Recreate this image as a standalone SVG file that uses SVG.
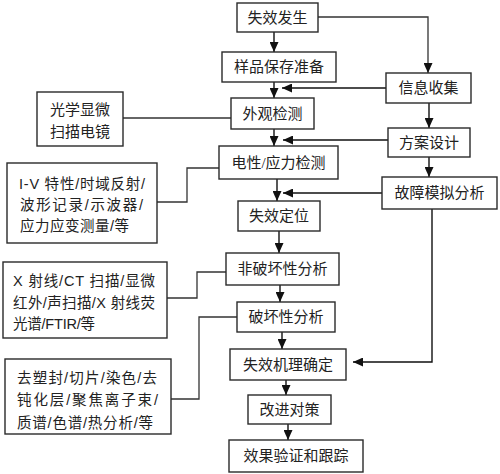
<svg xmlns="http://www.w3.org/2000/svg" width="500" height="474" viewBox="0 0 500 474">
<style>
.box{fill:#fff;stroke:#2a2a2a;stroke-width:1.4}
.t{font-family:"Liberation Serif","Noto Sans CJK SC",serif;font-size:15px;fill:#222;text-anchor:middle}
.s{font-family:"Liberation Sans","Noto Sans CJK SC",sans-serif;font-size:14.5px;fill:#222}
.c{fill:none;stroke:#111;stroke-width:1.4}
.l{fill:none;stroke:#333;stroke-width:1.3}
</style>
<defs>
<marker id="a" markerUnits="userSpaceOnUse" markerWidth="10" markerHeight="9" refX="10" refY="4.5" orient="auto">
<path d="M0,0 L10,4.5 L0,9 z" fill="#111"/>
</marker>
</defs>
<g id="connectors">
<path class="c" d="M274,32 V52" marker-end="url(#a)"/>
<path class="c" d="M274,82 V98" marker-end="url(#a)"/>
<path class="c" d="M386,88 H282" marker-end="url(#a)"/>
<path class="c" d="M274,129 V146" marker-end="url(#a)"/>
<path class="c" d="M388,140 H283" marker-end="url(#a)"/>
<path class="c" d="M277,179 V201" marker-end="url(#a)"/>
<path class="c" d="M382,193 H283" marker-end="url(#a)"/>
<path class="c" d="M279,231 V253" marker-end="url(#a)"/>
<path class="c" d="M280,285 V302" marker-end="url(#a)"/>
<path class="c" d="M282,332 V349" marker-end="url(#a)"/>
<path class="c" d="M286,380 V395" marker-end="url(#a)"/>
<path class="c" d="M288,424 V440" marker-end="url(#a)"/>
<path class="l" d="M318,17 H428 V73" marker-end="url(#a)"/>
<path class="c" d="M429,103 V128" marker-end="url(#a)"/>
<path class="c" d="M429,157 V177" marker-end="url(#a)"/>
<path class="c" d="M432,209 V362 H353" marker-end="url(#a)"/>
<path class="l" d="M123,118 H231"/>
<path class="l" d="M157,202 H187 V168 H219"/>
<path class="l" d="M167,298 H197 V272 H226"/>
<path class="l" d="M171,399 H199 V317 H237"/>
</g>
<g id="n1"><rect class="box" x="237" y="3" width="81" height="29"/><text class="t" x="277.5" y="23">失效发生</text></g>
<g id="n2"><rect class="box" x="222" y="52" width="114" height="30"/><text class="t" x="279" y="72">样品保存准备</text></g>
<g id="n3"><rect class="box" x="231" y="98" width="83" height="31"/><text class="t" x="272.5" y="119">外观检测</text></g>
<g id="n4"><rect class="box" x="219" y="146" width="119" height="33"/><text class="t" x="278.5" y="168">电性/应力检测</text></g>
<g id="n5"><rect class="box" x="238" y="201" width="82" height="30"/><text class="t" x="279" y="221">失效定位</text></g>
<g id="n6"><rect class="box" x="226" y="253" width="113" height="32"/><text class="t" x="282.5" y="274">非破坏性分析</text></g>
<g id="n7"><rect class="box" x="237" y="302" width="98" height="30"/><text class="t" x="286" y="322">破坏性分析</text></g>
<g id="n8"><rect class="box" x="230" y="349" width="116" height="31"/><text class="t" x="288" y="370">失效机理确定</text></g>
<g id="n9"><rect class="box" x="248" y="395" width="83" height="29"/><text class="t" x="289.5" y="415">改进对策</text></g>
<g id="n10"><rect class="box" x="229" y="440" width="134" height="32"/><text class="t" x="296" y="461">效果验证和跟踪</text></g>
<g id="r1"><rect class="box" x="386" y="73" width="85" height="30"/><text class="t" x="428.5" y="93">信息收集</text></g>
<g id="r2"><rect class="box" x="388" y="128" width="82" height="29"/><text class="t" x="429" y="148">方案设计</text></g>
<g id="r3"><rect class="box" x="382" y="177" width="115" height="32"/><text class="t" x="439.5" y="198">故障模拟分析</text></g>
<g id="s1"><rect class="box" x="37" y="92" width="86" height="54"/>
<text class="t" x="80" y="115">光学显微</text><text class="t" x="80" y="137">扫描电镜</text></g>
<g id="s2"><rect class="box" x="7" y="163" width="150" height="80"/>
<text class="s" x="19" y="189" textLength="126" lengthAdjust="spacing">I-V 特性/时域反射/</text>
<text class="s" x="20" y="210" textLength="123" lengthAdjust="spacing">波形记录/示波器/</text>
<text class="s" x="20" y="231" textLength="109" lengthAdjust="spacing">应力应变测量/等</text></g>
<g id="s3"><rect class="box" x="3" y="262" width="164" height="76"/>
<text class="s" x="13" y="286" textLength="142" lengthAdjust="spacing">X 射线/CT 扫描/显微</text>
<text class="s" x="13" y="308" textLength="142" lengthAdjust="spacing">红外/声扫描/X 射线荧</text>
<text class="s" x="13" y="329" textLength="82" lengthAdjust="spacing">光谱/FTIR/等</text></g>
<g id="s4"><rect class="box" x="5" y="359" width="166" height="75"/>
<text class="s" x="17" y="383" textLength="140" lengthAdjust="spacing">去塑封/切片/染色/去</text>
<text class="s" x="17" y="405" textLength="141" lengthAdjust="spacing">钝化层/聚焦离子束/</text>
<text class="s" x="17" y="428" textLength="136" lengthAdjust="spacing">质谱/色谱/热分析/等</text></g>
</svg>
